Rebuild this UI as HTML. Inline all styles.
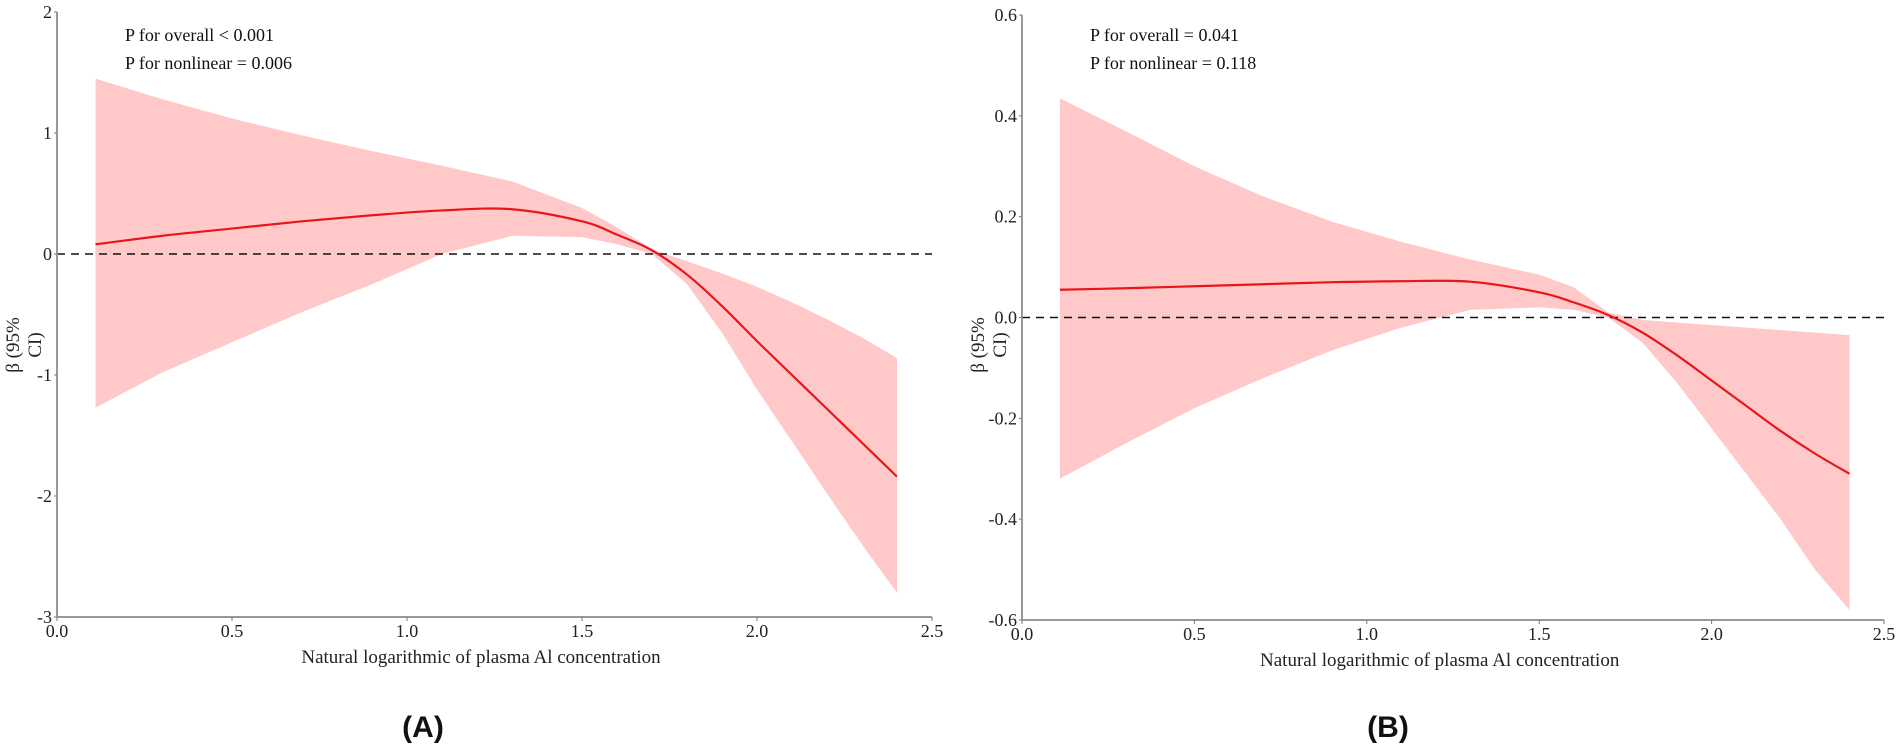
<!DOCTYPE html>
<html><head><meta charset="utf-8"><style>
html,body{margin:0;padding:0;background:#fff;}
svg{display:block;}
.tk{font-family:"Liberation Serif",serif;font-size:18px;fill:#222;}
.ttl{font-family:"Liberation Serif",serif;font-size:19px;fill:#222;}
.pv{font-family:"Liberation Serif",serif;font-size:18px;fill:#111;}
.lab{font-family:"Liberation Sans",sans-serif;font-size:30px;font-weight:bold;fill:#111;}
</style></head><body>
<svg id="chart" width="1902" height="749" viewBox="0 0 1902 749"></svg>
<script>
const xs = [0.11,0.3,0.5,0.7,0.9,1.1,1.3,1.5,1.6,1.7,1.8,1.9,2.0,2.1,2.2,2.3,2.4];
const fitA = [0.08,0.15,0.21,0.27,0.32,0.36,0.37,0.27,0.16,0.03,-0.17,-0.43,-0.72,-1.00,-1.28,-1.56,-1.84];
const upA = [1.45,1.28,1.12,0.98,0.85,0.73,0.60,0.38,0.22,0.04,-0.06,-0.16,-0.27,-0.40,-0.54,-0.69,-0.86];
const loA = [-1.27,-0.98,-0.73,-0.48,-0.25,0.0,0.15,0.14,0.08,0.0,-0.25,-0.65,-1.12,-1.55,-1.98,-2.40,-2.80];
const fitB = [0.055,0.058,0.062,0.066,0.07,0.072,0.071,0.05,0.03,0.005,-0.03,-0.075,-0.125,-0.175,-0.225,-0.27,-0.31];
const upB = [0.435,0.37,0.30,0.24,0.19,0.15,0.115,0.085,0.06,0.01,-0.005,-0.01,-0.015,-0.02,-0.025,-0.03,-0.035];
const loB = [-0.32,-0.25,-0.18,-0.12,-0.065,-0.02,0.015,0.02,0.015,0.0,-0.05,-0.13,-0.22,-0.31,-0.40,-0.50,-0.58];
const xTicks = [0.0,0.5,1.0,1.5,2.0,2.5];
const xTickLabels = ["0.0","0.5","1.0","1.5","2.0","2.5"];
const yTicksA = [2,1,0,-1,-2,-3];
const yTickLabelsA = ["2","1","0","-1","-2","-3"];
const yTicksB = [0.6,0.4,0.2,0.0,-0.2,-0.4,-0.6];
const yTickLabelsB = ["0.6","0.4","0.2","0.0","-0.2","-0.4","-0.6"];
const pTextA = ["P for overall < 0.001","P for nonlinear = 0.006"];
const pTextB = ["P for overall = 0.041","P for nonlinear = 0.118"];

const NS="http://www.w3.org/2000/svg";
const svg=document.getElementById('chart');
function mk(tag,attrs,parent){const e=document.createElementNS(NS,tag);for(const k in attrs)e.setAttribute(k,attrs[k]);(parent||svg).appendChild(e);return e;}

function panel(p){
  const g=mk('g',{});
  
  
  const X=v=>p.x0+(v-p.xmin)/(p.xmax-p.xmin)*(p.x1-p.x0);
  const Y=v=>p.yTop+(p.ymax-v)/(p.ymax-p.ymin)*(p.yBot-p.yTop);
  let d='M'+xs.map((x,i)=>X(x).toFixed(1)+','+Y(p.up[i]).toFixed(1)).join('L');
  for(let i=xs.length-1;i>=0;i--) d+='L'+X(xs[i]).toFixed(1)+','+Y(p.lo[i]).toFixed(1);
  const rib=mk('path',{d:d+'Z',fill:'#ffc9c9',stroke:'none'},g);
  
  
  const z=mk('line',{x1:p.x0,x2:p.x1,y1:Y(0),y2:Y(0),stroke:'#111','stroke-width':1.6,'stroke-dasharray':'8,6'},g);
  
  
  let pts=xs.map((x,i)=>[X(x),Y(p.fit[i])]);
  let c='M'+pts[0][0]+','+pts[0][1];
  for(let i=0;i<pts.length-1;i++){
    const p0=pts[Math.max(0,i-1)],p1=pts[i],p2=pts[i+1],p3=pts[Math.min(pts.length-1,i+2)];
    c+='C'+(p1[0]+(p2[0]-p0[0])/6)+','+(p1[1]+(p2[1]-p0[1])/6)+' '+(p2[0]-(p3[0]-p1[0])/6)+','+(p2[1]-(p3[1]-p1[1])/6)+' '+p2[0]+','+p2[1];
  }
  const fl=mk('path',{d:c,fill:'none',stroke:'#e8161b','stroke-width':2.2},g);
  
  
  const ya=mk('line',{x1:p.x0,x2:p.x0,y1:p.yTop,y2:p.yBot,stroke:'#999','stroke-width':2},g);
  
  
  const xa=mk('line',{x1:p.x0,x2:p.x1,y1:p.yBot,y2:p.yBot,stroke:'#999','stroke-width':2},g);
  
  
  p.yt.forEach((v,i)=>{
    mk('line',{x1:p.x0-3,x2:p.x0,y1:Y(v),y2:Y(v),stroke:'#777'},g);
    const t=mk('text',{x:p.x0-5,y:Y(v)+6,'text-anchor':'end',class:'tk'},g);
    t.textContent=p.ytl[i];
    
    
  });
  xTicks.forEach((v,i)=>{
    mk('line',{x1:X(v),x2:X(v),y1:p.yBot,y2:p.yBot+4,stroke:'#777'},g);
    const t=mk('text',{x:X(v),y:p.yBot+20,'text-anchor':'middle',class:'tk'},g);
    t.textContent=xTickLabels[i];
    
    
  });
  const xt=mk('text',{x:p.x0+424*(p.x1-p.x0)/875,y:p.yBot+46,'text-anchor':'middle',class:'ttl'},g);
  xt.textContent='Natural logarithmic of plasma Al concentration';
  
  
  const yt=mk('text',{transform:'translate('+(p.x0-38)+',345) rotate(-90)','text-anchor':'middle',class:'ttl'},g);
  
  
  const s1=mk('tspan',{x:0,y:0},yt);s1.textContent='β (95%';
  const s2=mk('tspan',{x:0,y:22},yt);s2.textContent='CI)';
  p.ptext.forEach((s,i)=>{
    const t=mk('text',{x:p.x0+68,y:41+i*28,class:'pv'},g);
    t.textContent=s;
    
    
  });
  const l=mk('text',{x:p.x0+366,y:737,'text-anchor':'middle',class:'lab'},g);
  l.textContent=p.label;
  
  
}
panel({name:'panel-a',x0:57,x1:932,xmin:0,xmax:2.5,yTop:12,yBot:617,ymin:-3,ymax:2,fit:fitA,up:upA,lo:loA,yt:yTicksA,ytl:yTickLabelsA,ptext:pTextA,label:'(A)'});
panel({name:'panel-b',x0:1022,x1:1884,xmin:0,xmax:2.5,yTop:15,yBot:620,ymin:-0.6,ymax:0.6,fit:fitB,up:upB,lo:loB,yt:yTicksB,ytl:yTickLabelsB,ptext:pTextB,label:'(B)'});
</script>
</body></html>
